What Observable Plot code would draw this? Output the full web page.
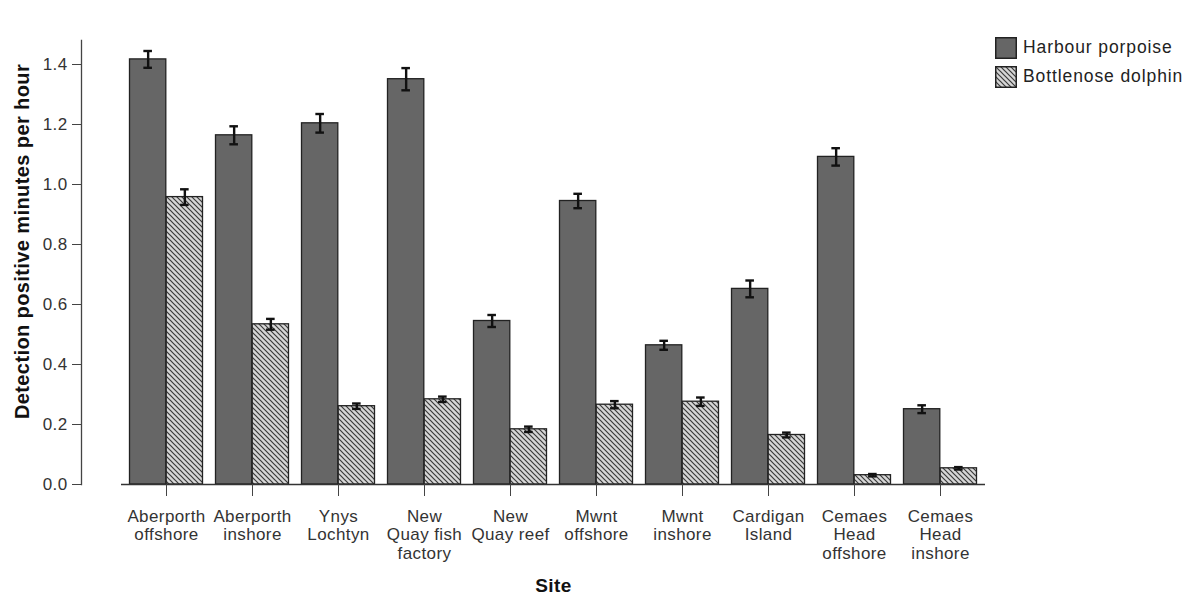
<!DOCTYPE html>
<html><head><meta charset="utf-8">
<script src="https://cdn.jsdelivr.net/npm/d3@7"></script>
<script src="https://cdn.jsdelivr.net/npm/@observablehq/plot@0.6"></script>
<style>
body{margin:0;background:#fff;font-family:"Liberation Sans",Arial,sans-serif;}
#wrap{display:flex;width:1192px;height:595px;}
#legend{padding-top:33px;padding-left:5px;}
.row{display:flex;align-items:center;height:29px;font-size:17.5px;letter-spacing:0.9px;color:#222;white-space:nowrap}
.row svg{margin-right:6px}
</style></head><body>
<svg width="0" height="0" style="position:absolute">
  <defs>
    <pattern id="hatch" patternUnits="userSpaceOnUse" width="5" height="5">
      <rect width="5" height="5" fill="#d6d6d6"/>
      <path d="M0,0 L5,5 M-1,4 L1,6 M4,-1 L6,1" stroke="#3a3a3a" stroke-width="1.2"/>
    </pattern>
  </defs>
</svg>
<div id="wrap"><div id="chart"></div><div id="legend"></div></div>
<script>
const sites = ["Aberporth offshore","Aberporth inshore","Ynys Lochtyn","New Quay fish factory","New Quay reef","Mwnt offshore","Mwnt inshore","Cardigan Island","Cemaes Head offshore","Cemaes Head inshore"];
const siteLabels = ["Aberporth\noffshore","Aberporth\ninshore","Ynys\nLochtyn","New\nQuay fish\nfactory","New\nQuay reef","Mwnt\noffshore","Mwnt\ninshore","Cardigan\nIsland","Cemaes\nHead\noffshore","Cemaes\nHead\ninshore"];
const species = ["Harbour porpoise","Bottlenose dolphin"];
const harbour    = [1.417, 1.164, 1.204, 1.351, 0.545, 0.945, 0.464, 0.652, 1.092, 0.251];
const harbourErr = [0.028, 0.030, 0.031, 0.037, 0.020, 0.024, 0.015, 0.028, 0.029, 0.013];
const dolphin    = [0.958, 0.534, 0.261, 0.284, 0.184, 0.266, 0.276, 0.165, 0.031, 0.054];
const dolphinErr = [0.026, 0.018, 0.009, 0.009, 0.009, 0.012, 0.014, 0.008, 0.004, 0.004];
const yTicks = [0, 0.2, 0.4, 0.6, 0.8, 1.0, 1.2, 1.4];
const xTitle = "Site";
const yTitle = "Detection positive minutes per hour";

const hData = sites.map((s,i)=>({site:s, species:species[0], value:harbour[i], err:harbourErr[i]}));
const dData = sites.map((s,i)=>({site:s, species:species[1], value:dolphin[i], err:dolphinErr[i]}));

const W = 990, H = 595, ML = 121, MR = 5, MT = 40, MB = 111;
const HALF = (W - ML - MR) / sites.length / 2;   // half band
const OUTER = 6.5;                                 // gap at group edges
const OFF = (HALF - OUTER) / 2;                    // bar centre offset from band centre
const CAP = 9;

function errMarks(data, sign) {
  return [
    Plot.ruleX(data, {x:"site", y1:d=>d.value-d.err, y2:d=>d.value+d.err, dx: sign*OFF, stroke:"#111", strokeWidth:2.4}),
    Plot.tickY(data, {x:"site", y:d=>d.value+d.err, dx: sign*OFF, insetLeft:HALF-CAP/2, insetRight:HALF-CAP/2, stroke:"#111", strokeWidth:2.4}),
    Plot.tickY(data, {x:"site", y:d=>d.value-d.err, dx: sign*OFF, insetLeft:HALF-CAP/2, insetRight:HALF-CAP/2, stroke:"#111", strokeWidth:2.4})
  ];
}

const chart = Plot.plot({
  width: W, height: H,
  marginLeft: ML, marginRight: MR, marginTop: MT, marginBottom: MB,
  style: {fontFamily: '"Liberation Sans", Arial, sans-serif', fontSize: "17px", color: "#222", letterSpacing: "0.4px", overflow: "visible", background: "#fff"},
  x: {type: "band", domain: sites, padding: 0, label: null},
  y: {domain: [0, 1.48], label: null},
  marks: [
    Plot.barY(hData, {x:"site", y:"value", fill:"#666666", stroke:"#222", strokeWidth:1.3, insetLeft: OUTER, insetRight: HALF}),
    Plot.barY(dData, {x:"site", y:"value", fill:"url(#hatch)", stroke:"#222", strokeWidth:1.3, insetLeft: HALF, insetRight: OUTER}),
    ...errMarks(hData, -1),
    ...errMarks(dData, +1),
    Plot.ruleY([0], {stroke:"#333", strokeWidth:1.3}),
    Plot.frame({anchor:"left", dx:-40, stroke:"#444", strokeWidth:1.3}),
    Plot.axisY({ticks: yTicks, tickFormat: d3.format(".1f"), tickSize: 9, tickPadding: 5, dx: -40, label: null, stroke:"#444", fill:"#333"}),
    Plot.axisX({tickSize: 12, tickPadding: 12, tickFormat: d => siteLabels[sites.indexOf(d)], label: null, lineHeight: 1.09, stroke:"#444", fill:"#333"}),
    Plot.text([xTitle], {frameAnchor:"bottom", dy: 107, fontWeight:"bold", fontSize:19, fill:"#111"}),
    Plot.text([yTitle], {frameAnchor:"left", textAnchor:"middle", rotate:-90, dx:-99, dy:-21, fontWeight:"bold", fontSize:20, fill:"#111"})
  ]
});
document.getElementById("chart").appendChild(chart);

const legend = document.getElementById("legend");
const fills = ["#666666", "url(#hatch)"];
species.forEach((s, i) => {
  const row = document.createElement("div");
  row.className = "row";
  row.innerHTML = `<svg width="22" height="22"><rect x="0.75" y="0.75" width="20.5" height="20.5" fill="${fills[i]}" stroke="#222" stroke-width="1.5"/></svg><span>${s}</span>`;
  legend.appendChild(row);
});
</script>
</body></html>
